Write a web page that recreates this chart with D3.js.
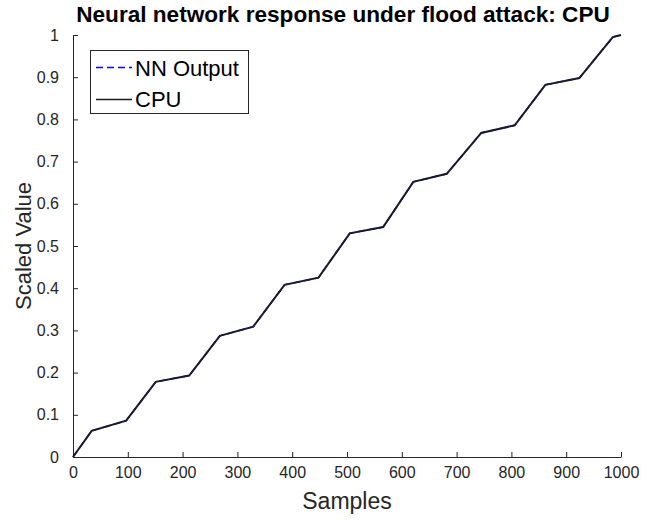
<!DOCTYPE html>
<html>
<head>
<meta charset="utf-8">
<script src="https://cdn.jsdelivr.net/npm/d3@7"></script>
<style>
  html, body { margin: 0; padding: 0; background: #fff; }
  svg { display: block; font-family: "Liberation Sans", Arial, sans-serif; }
</style>
</head>
<body>
<svg id="chart" width="646" height="521"></svg>
<script>
const samples = [0, 34, 97, 151, 212, 268, 329, 386, 448, 505, 566, 621, 682, 745, 806, 862, 924, 985, 1000];
const cpuValues = [0, 0.062, 0.086, 0.178, 0.193, 0.287, 0.309, 0.408, 0.425, 0.530, 0.545, 0.652, 0.671, 0.768, 0.786, 0.882, 0.898, 0.995, 1.0];
const nnValues = [0, 0.062, 0.086, 0.178, 0.193, 0.287, 0.309, 0.408, 0.425, 0.530, 0.545, 0.652, 0.671, 0.768, 0.786, 0.882, 0.898, 0.995, 1.0];
const xTicks = [0, 100, 200, 300, 400, 500, 600, 700, 800, 900, 1000];
const yTicks = [0, 0.1, 0.2, 0.3, 0.4, 0.5, 0.6, 0.7, 0.8, 0.9, 1];
const titleText = "Neural network response under flood attack: CPU";
const xLabel = "Samples";
const yLabel = "Scaled Value";
const legendLabels = ["NN Output", "CPU"];

(function () {
const svg = d3.select("#chart");
const mLeft = 73, mRight = 621, mTop = 35, mBottom = 457;
const x = d3.scaleLinear().domain([0, 1000]).range([mLeft, mRight]);
const y = d3.scaleLinear().domain([0, 1]).range([mBottom, mTop]);
const axisColor = "#262626";

const xAxis = svg.append("g").attr("transform", `translate(0,${mBottom})`)
  .call(d3.axisBottom(x).tickValues(xTicks).tickSizeInner(-5).tickSizeOuter(0).tickPadding(10).tickFormat(d3.format("d")));
const yAxis = svg.append("g").attr("transform", `translate(${mLeft},0)`)
  .call(d3.axisLeft(y).tickValues(yTicks).tickSizeInner(-5).tickSizeOuter(0).tickPadding(14).tickFormat(d => d === 0 || d === 1 ? String(d) : d3.format(".1f")(d)));
[xAxis, yAxis].forEach(g => {
  g.selectAll("path").attr("stroke", axisColor).attr("stroke-width", 1);
  g.selectAll("line").attr("stroke", axisColor).attr("stroke-width", 1);
  g.selectAll("text").attr("fill", axisColor).style("font-size", "16px").style("font-family", "Liberation Sans, Arial, sans-serif");
});

const line = d3.line().x((d, i) => x(samples[i])).y(d => y(d));
svg.append("path").datum(nnValues).attr("d", line)
  .attr("fill", "none").attr("stroke", "#0000ff").attr("stroke-width", 1.5).attr("stroke-dasharray", "7,4");
svg.append("path").datum(cpuValues).attr("d", line)
  .attr("fill", "none").attr("stroke", "#1a1a2a").attr("stroke-width", 2);

svg.append("text").attr("x", 343).attr("y", 22).attr("text-anchor", "middle")
  .style("font-size", "22.6px").style("font-weight", "bold").attr("fill", "#000").text(titleText);
svg.append("text").attr("x", (mLeft + mRight) / 2).attr("y", 509).attr("text-anchor", "middle")
  .style("font-size", "23px").attr("fill", axisColor).text(xLabel);
svg.append("text").attr("transform", `translate(31,${(mTop + mBottom) / 2}) rotate(-90)`).attr("text-anchor", "middle")
  .style("font-size", "22px").attr("fill", axisColor).text(yLabel);

const lg = svg.append("g");
lg.append("rect").attr("x", 90.5).attr("y", 50.5).attr("width", 158).attr("height", 63)
  .attr("fill", "#fff").attr("stroke", axisColor).attr("stroke-width", 1);
lg.append("line").attr("x1", 96).attr("x2", 132).attr("y1", 67.5).attr("y2", 67.5)
  .attr("stroke", "#0000ff").attr("stroke-width", 1.5).attr("stroke-dasharray", "7,4");
lg.append("line").attr("x1", 96).attr("x2", 132).attr("y1", 99.5).attr("y2", 99.5)
  .attr("stroke", "#1a1a1a").attr("stroke-width", 1.5);
lg.append("text").attr("x", 135).attr("y", 76).style("font-size", "22px").attr("fill", "#000").text(legendLabels[0]);
lg.append("text").attr("x", 135).attr("y", 107).style("font-size", "22px").attr("fill", "#000").text(legendLabels[1]);
})();
</script>
</body>
</html>
